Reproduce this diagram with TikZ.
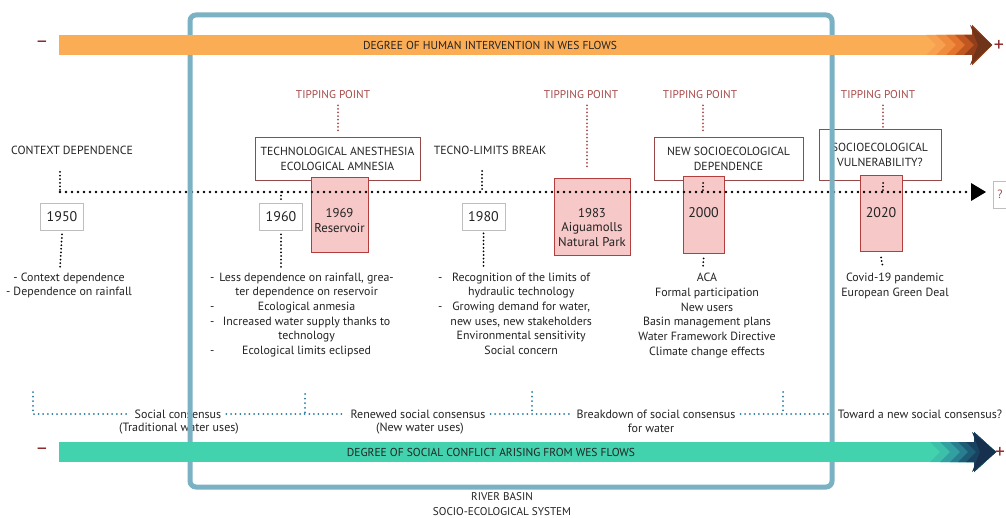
\documentclass[tikz,border=0pt]{standalone}
\usepackage{fontspec}
\setmainfont{PT Sans}
\usetikzlibrary{arrows.meta}

\definecolor{basinblue}{RGB}{122,178,196}
\definecolor{humanorange}{RGB}{251,173,86}
\definecolor{conflictteal}{RGB}{66,210,174}
\definecolor{tipred}{RGB}{168,74,74}
\definecolor{boxred}{RGB}{150,72,72}
\definecolor{eventfill}{RGB}{246,200,200}
\definecolor{eventline}{RGB}{178,62,62}
\definecolor{consblue}{RGB}{40,120,160}
\definecolor{inkgray}{RGB}{35,35,35}
\definecolor{signred}{RGB}{140,40,40}
\definecolor{yearline}{RGB}{190,190,190}

\tikzset{
  body/.style={font=\fontsize{11.9}{14.7}\selectfont, text=inkgray, align=center, inner sep=0pt},
  listnode/.style={font=\fontsize{11.9}{14.7}\selectfont, text=inkgray, inner sep=0pt},
  heading/.style={font=\fontsize{11.8}{13}\selectfont, text=inkgray, inner sep=0pt},
  tipping/.style={font=\fontsize{11.3}{12}\selectfont, text=tipred, inner sep=0pt},
  phasebox/.style={draw=boxred, line width=0.9pt, fill=white, align=center, inner sep=0pt,
    font=\fontsize{11.7}{15}\selectfont, text=inkgray},
  eventbox/.style={draw=eventline, line width=1pt, fill=eventfill, inner sep=0pt},
  eventtext/.style={font=\fontsize{12.8}{14.6}\selectfont, text=inkgray, align=center, inner sep=0pt},
  yearbox/.style={draw=yearline, line width=0.8pt, fill=white, inner sep=0pt,
    minimum width=43pt, minimum height=27pt, font=\fontsize{14}{15}\selectfont, text=inkgray},
  yeartext/.style={font=\fontsize{14}{15}\selectfont, text=inkgray, inner sep=0pt},
  timedots/.style={draw=black, line width=2.8pt, dash pattern=on 0pt off 6pt, line cap=round},
  tickdots/.style={draw=black, line width=2pt, dash pattern=on 0pt off 3.6pt, line cap=round},
  tipdots/.style={draw=tipred, line width=2pt, dash pattern=on 0pt off 3.6pt, line cap=round},
  consdots/.style={draw=consblue, line width=2pt, dash pattern=on 0pt off 4.6pt, line cap=round},
  cons/.style={font=\fontsize{12}{13}\selectfont, text=inkgray, inner xsep=5pt, inner ysep=0pt},
  barlabel/.style={font=\fontsize{11.5}{12}\selectfont, text=inkgray, inner sep=0pt},
  sign/.style={font=\fontsize{20}{20}\selectfont, text=signred, inner sep=0pt},
}

\begin{document}
\begin{tikzpicture}[x=1pt,y=-1pt]
\useasboundingbox (0,0) rectangle (1006,518);
\fill[white] (0,0) rectangle (1006,518);

% ---------- phase headings and tipping points ----------
\node[heading] (ctxhead) at (72,150) {CONTEXT DEPENDENCE};
\node[heading] (tecnohead) at (490,150) {TECNO-LIMITS BREAK};

\node[phasebox, minimum width=165pt, minimum height=43pt] (ph1) at (337.5,158.5)
  {TECHNOLOGICAL ANESTHESIA\\ECOLOGICAL AMNESIA};
\node[phasebox, minimum width=149pt, minimum height=43pt] (ph2) at (728.5,158.5)
  {NEW SOCIOECOLOGICAL\\DEPENDENCE};
\node[phasebox, minimum width=122pt, minimum height=51pt] (ph3) at (880,154.5)
  {SOCIOECOLOGICAL\\VULNERABILITY?};

\node[tipping] (tp1) at (333,95) {TIPPING POINT};
\node[tipping] (tp2) at (581,95) {TIPPING POINT};
\node[tipping] (tp3) at (700,95) {TIPPING POINT};
\node[tipping] (tp4) at (878,95) {TIPPING POINT};

\coordinate (tp1foot) at (338,131);
\coordinate (tp2foot) at (587,167);
\coordinate (tp3foot) at (703,131);
\coordinate (tp4foot) at (883,128);
\draw[tipdots] (tp1.south -| tp1foot) ++(0,6) -- (tp1foot);
\draw[tipdots] (tp2.south -| tp2foot) ++(0,6) -- (tp2foot);
\draw[tipdots] (tp3.south -| tp3foot) ++(0,6) -- (tp3foot);
\draw[tipdots] (tp4.south -| tp4foot) ++(0,6) -- (tp4foot);

% ---------- year boxes ----------
\node[yearbox] (y1950) at (62,216.5) {1950};
\node[yearbox] (y1960) at (281,216.5) {1960};
\node[yearbox] (y1980) at (483.5,216.5) {1980};

% ---------- event boxes ----------
\node[eventbox, minimum width=57pt, minimum height=75pt] (ev1969) at (339.5,215.5) {};
\node[eventbox, minimum width=76pt, minimum height=77pt] (ev1983) at (592,217.5) {};
\node[eventbox, minimum width=41pt, minimum height=77pt] (ev2000) at (703.5,215.5) {};
\node[eventbox, minimum width=42pt, minimum height=76pt] (ev2020) at (881,214) {};

\node[eventtext] (t1969) at (339.5,220.5) {1969\\Reservoir};
\node[eventtext] (t1983) at (592,227.5) {1983\\Aiguamolls\\Natural Park};
\node[yeartext] (t2000) at (703.5,213) {2000};
\node[yeartext] (t2020) at (881,213) {2020};

% ---------- timeline ----------
\coordinate (tlstart) at (60,192);
\coordinate (tlend) at (968,192);
\draw[timedots] (tlstart) -- (tlend);
\fill[black] (971,183) -- (986,192) -- (971,201) -- cycle;
\node[draw=yearline, line width=0.8pt, fill=white, anchor=west, minimum height=27pt,
  inner xsep=4pt, font=\fontsize{12}{14}\selectfont, text=tipred] (qbox) at (993,194.5) {?};

% vertical ticks of the timeline
\draw[tickdots] (60,172) -- (tlstart);
\draw[tickdots] (y1950.south) ++(0,4) -- (60,268);
\draw[tickdots] (tlstart -| y1960) -- (y1960.north);
\draw[tickdots] (y1960.south) ++(0,4) -- (281,268);
\draw[tickdots] (482,171) -- (tlstart -| 482,0);
\draw[tickdots] (y1980.south) ++(0,3) -- (483.5,267);
\draw[tickdots] (703,183) -- (703,191);
\draw[tickdots] (ev2000.south) ++(0,4) -- (703,268);
\draw[tickdots] (883,183) -- (883,191);
\draw[tickdots] (ev2020.south) ++(0,5) -- (883,268);

% ---------- descriptions ----------
\node[body] (d1950) at (69,285.5) {- Context dependence\\- Dependence on rainfall};
\node[listnode, anchor=west] (d1960) at (210,315)
  {\begin{tabular}{@{}l@{\hspace{5pt}}c@{}}
   - & Less dependence on rainfall, grea-\\
     & ter dependence on reservoir\\
   - & Ecological anmesia\\
   - & Increased water supply thanks to\\
     & technology\\
   - & Ecological limits eclipsed
   \end{tabular}};
\node[listnode, anchor=west] (d1980) at (438,315)
  {\begin{tabular}{@{}l@{\hspace{8pt}}c@{}}
   - & Recognition of the limits of\\
     & hydraulic technology\\
   - & Growing demand for water,\\
     & new uses, new stakeholders\\
     & Environmental sensitivity\\
     & Social concern
   \end{tabular}};
\node[body] (d2000) at (707,315.5)
  {ACA\\Formal participation\\New users\\Basin management plans\\Water Framework Directive\\Climate change effects};
\node[body] (d2020) at (895,286) {Covid-19 pandemic\\European Green Deal};

% ---------- social consensus line ----------
\node[cons] (cons1) at (178,414) {Social consensus};
\node[cons] (cons1b) at (179,428.5) {(Traditional water uses)};
\node[cons] (cons2) at (418,414) {Renewed social consensus};
\node[cons] (cons2b) at (420,428.5) {(New water uses)};
\node[cons] (cons3) at (656,414) {Breakdown of social consensus};
\node[cons] (cons3b) at (651,428.5) {for water};
\node[cons] (cons4) at (920,414) {Toward a new social consensus?};

\coordinate (k0) at (33,414);
\coordinate (k1) at (305,414);
\coordinate (k2) at (532,414);
\coordinate (k3) at (783,414);
\draw[consdots] (33,392) -- (k0) -- (cons1.west);
\draw[consdots] (cons1.east) -- (cons2.west);
\draw[consdots] (cons2.east) -- (cons3.west);
\draw[consdots] (cons3.east) -- (cons4.west);
\draw[consdots] (305,394) -- (k1);
\draw[consdots] (532,392) -- (k2);
\draw[consdots] (783,392) -- (k3);

% ---------- river basin frame ----------
\draw[basinblue, line width=5pt, rounded corners=6pt] (190,15) rectangle (832,487);
\node[body, font=\fontsize{11.2}{15}\selectfont] (basin) at (502,504.5) {RIVER BASIN\\SOCIO-ECOLOGICAL SYSTEM};

% ---------- degree of human intervention ----------
\fill[humanorange] (59,35) rectangle (973,55);
\foreach \a/\c in {926/{246,160,80}, 936/{240,140,62}, 946/{226,116,46}, 955/{192,86,32}, 964/{146,62,26}} {
  \definecolor{chev}{RGB}{\c}
  \fill[chev] (\a,35) -- (972,35) -- (972,25) -- (992,45) -- (972,65) -- (972,55) -- (\a,55) -- (\a+10,45) -- cycle;
}
\definecolor{headbrown}{RGB}{112,52,26}
\fill[headbrown] (970,25) -- (992,45) -- (970,65) -- (978,45) -- cycle;
\node[barlabel] (humanlbl) at (490,45) {DEGREE OF HUMAN INTERVENTION IN WES FLOWS};
\node[sign] (hminus) at (42,44) {–};
\node[sign] (hplus) at (999,46) {+};

% ---------- degree of social conflict ----------
\fill[conflictteal] (59,442) rectangle (974,462);
\foreach \a/\c in {930/{60,192,170}, 940/{50,160,160}, 950/{40,126,142}, 958/{30,92,118}, 966/{24,66,96}} {
  \definecolor{chev}{RGB}{\c}
  \fill[chev] (\a,442) -- (974,442) -- (974,432) -- (996,452) -- (974,472) -- (974,462) -- (\a,462) -- (\a+10,452) -- cycle;
}
\definecolor{headnavy}{RGB}{22,48,78}
\fill[headnavy] (972,432) -- (996,452) -- (972,472) -- (980,452) -- cycle;
\node[barlabel] (conflictlbl) at (491,452) {DEGREE OF SOCIAL CONFLICT ARISING FROM WES FLOWS};
\node[sign] (cminus) at (42,451) {–};
\node[sign] (cplus) at (1000,453) {+};
\end{tikzpicture}
\end{document}
